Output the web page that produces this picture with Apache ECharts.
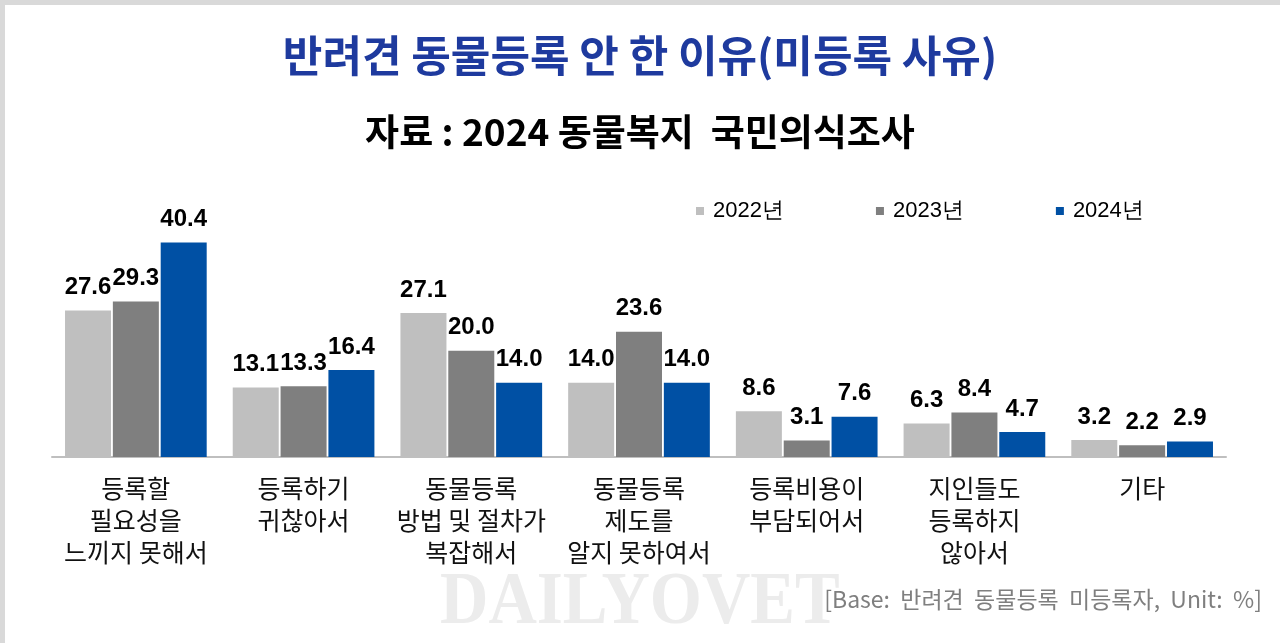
<!DOCTYPE html>
<html>
<head>
<meta charset="utf-8">
<script src="https://cdn.jsdelivr.net/npm/echarts@6/dist/echarts.min.js"></script>
<style>
  html, body { margin: 0; padding: 0; background: #fff; }
  #chart { width: 1280px; height: 643px; }
</style>
</head>
<body>
<div id="chart"></div>
<script>
// 미등록 사유 (%)
var categories = [
  '등록할\n필요성을\n느끼지 못해서',
  '등록하기\n귀찮아서',
  '동물등록\n방법 및 절차가\n복잡해서',
  '동물등록\n제도를\n알지 못하여서',
  '등록비용이\n부담되어서',
  '지인들도\n등록하지\n않아서',
  '기타'
];
var years = ['2022년', '2023년', '2024년'];
var values2022 = [27.6, 13.1, 27.1, 14.0, 8.6, 6.3, 3.2];
var values2023 = [29.3, 13.3, 20.0, 23.6, 3.1, 8.4, 2.2];
var values2024 = [40.4, 16.4, 14.0, 14.0, 7.6, 4.7, 2.9];
var colors = ['#bfbfbf', '#7f7f7f', '#0050a4'];

var font = '"Noto Sans CJK KR", "Noto Sans", sans-serif';
var latin = 'Arial, "Liberation Sans", sans-serif';
var chart = echarts.init(document.getElementById('chart'));

function makeSeries(name, data, color) {
  return {
    name: name,
    type: 'bar',
    data: data,
    barWidth: 46,
    barGap: '4%',
    itemStyle: { color: color },
    label: {
      show: true,
      position: 'top',
      distance: 11,
      color: '#000',
      fontSize: 24,
      fontWeight: 'bold',
      fontFamily: latin,
      formatter: function (p) { return p.value.toFixed(1); }
    }
  };
}

var option = {
  animation: false,
  backgroundColor: '#fff',
  title: [{
    text: '반려견 동물등록 안 한 이유(미등록 사유)',
    left: 'center',
    top: 29,
    textStyle: { color: '#1e3a9e', fontSize: 43, fontWeight: 'bold', fontFamily: font }
  }, {
    text: '자료 : 2024 동물복지  국민의식조사',
    left: 'center',
    top: 108,
    textStyle: { color: '#000', fontSize: 37, fontWeight: 'bold', fontFamily: font }
  }],
  legend: {
    data: years,
    left: 691,
    top: 195,
    itemWidth: 8,
    itemHeight: 8,
    itemGap: 92,
    icon: 'rect',
    textStyle: { fontSize: 22, color: '#000', fontFamily: latin, padding: [0, 0, 0, 4] }
  },
  grid: { left: 52, right: 54, top: 218, bottom: 186 },
  xAxis: {
    type: 'category',
    data: categories,
    axisLine: { lineStyle: { color: '#bfbfbf', width: 2 } },
    axisTick: { show: false },
    axisLabel: {
      interval: 0,
      margin: 15,
      color: '#111',
      fontSize: 25,
      lineHeight: 32,
      fontFamily: font
    }
  },
  yAxis: {
    type: 'value',
    min: 0,
    max: 45,
    show: false
  },
  series: [
    makeSeries(years[0], values2022, colors[0]),
    makeSeries(years[1], values2023, colors[1]),
    makeSeries(years[2], values2024, colors[2])
  ],
  graphic: [{
    type: 'rect',
    left: 0, top: 0,
    shape: { width: 1280, height: 643 },
    style: { fill: 'none', stroke: '#d9d9d9', lineWidth: 5 },
    silent: true
  }, {
    type: 'text',
    left: 440,
    top: 566,
    z: -1,
    scaleY: 1.12,
    style: {
      text: 'DAILYOVET',
      fill: '#ececec',
      font: 'bold 67px "Liberation Serif", "DejaVu Serif", serif'
    }
  }, {
    type: 'text',
    right: 18,
    top: 588,
    style: {
      text: '[Base:  반려견  동물등록  미등록자,  Unit:  %]',
      fill: '#7f7f7f',
      font: '23px ' + font
    }
  }]
};
chart.setOption(option);
</script>
</body>
</html>
